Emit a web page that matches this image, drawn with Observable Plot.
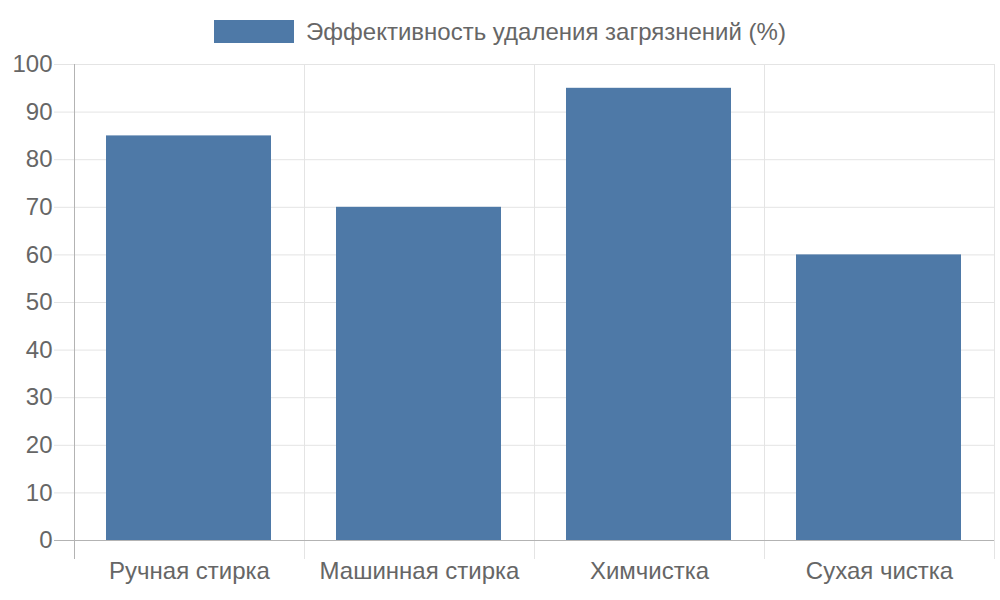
<!DOCTYPE html>
<html><head><meta charset="utf-8">
<script src="https://cdn.jsdelivr.net/npm/d3@7"></script>
<script src="https://cdn.jsdelivr.net/npm/@observablehq/plot@0.6"></script>
<style>
body{margin:0;background:#fff;font-family:"Liberation Sans",Arial,sans-serif;}
#legend{height:44px;display:flex;justify-content:center;align-items:flex-start;gap:12px;color:#666;font-size:24px;}
#legend .box{width:80px;height:23px;margin-top:20px;background:#4e79a7;}
#legend .lbl{margin-top:20px;line-height:23px;}
svg{display:block}
</style></head>
<body>
<div id="legend"><div class="box"></div><div class="lbl"></div></div>
<div id="chart"></div>
<script>
const seriesName = "Эффективность удаления загрязнений (%)";
const categories = ["Ручная стирка", "Машинная стирка", "Химчистка", "Сухая чистка"];
const values = [85, 70, 95, 60];
const yTicks = [0, 10, 20, 30, 40, 50, 60, 70, 80, 90, 100];

document.querySelector("#legend .lbl").textContent = seriesName;
const data = categories.map((c, i) => ({category: c, value: values[i]}));

const W = 1000, ML = 74, MR = 6;
const half = (W - ML - MR) / categories.length / 2;
const color = "#4e79a7";

const chart = Plot.plot({
  width: W, height: 556,
  marginLeft: ML, marginRight: MR, marginTop: 20, marginBottom: 60,
  style: {fontFamily: "'Liberation Sans', Arial, sans-serif", fontSize: "24px", color: "#666", background: "#fff"},
  x: {type: "band", domain: categories, padding: 0, axis: null},
  y: {domain: [0, 100], axis: null},
  marks: [
    Plot.ruleY(yTicks.filter(d => d > 0), {y: d => d, stroke: "#e4e4e4", strokeWidth: 1, insetLeft: -20}),
    Plot.ruleX(categories.slice(1), {x: d => d, dx: -half, y1: 100, y2: 0, stroke: "#e4e4e4", insetBottom: -19}),
    Plot.ruleX(categories.slice(-1), {x: d => d, dx: half, y1: 100, y2: 0, stroke: "#e4e4e4", insetBottom: -19}),
    Plot.barY(data, {x: "category", y: "value", fill: color, insetLeft: 32, insetRight: 33}),
    Plot.ruleY([0], {stroke: "#b3b3b3", insetLeft: -20}),
    Plot.ruleX(categories.slice(0, 1), {x: d => d, dx: -half, y1: 100, y2: 0, stroke: "#b3b3b3", insetBottom: -19}),
    Plot.text(yTicks, {y: d => d, text: d => String(d), frameAnchor: "left", textAnchor: "end", dx: -22, fill: "#666", fontSize: 24}),
    Plot.text(categories, {x: d => d, text: d => d, frameAnchor: "bottom", dy: 38, fill: "#666", fontSize: 24})
  ]
});
document.getElementById("chart").appendChild(chart);
</script>
</body></html>
